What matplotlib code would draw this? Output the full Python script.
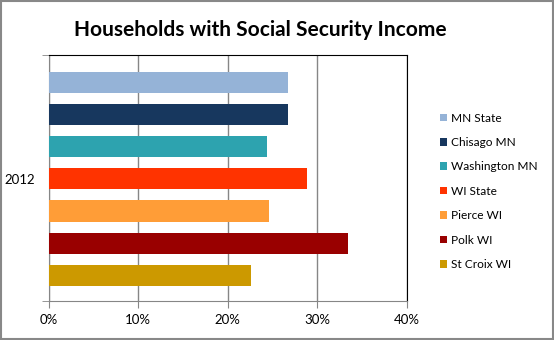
import matplotlib.pyplot as plt
from matplotlib.patches import Rectangle

# data
category = '2012'
series = ['MN State', 'Chisago MN', 'Washington MN', 'WI State',
          'Pierce WI', 'Polk WI', 'St Croix WI']
values = [0.267, 0.267, 0.244, 0.289, 0.246, 0.334, 0.226]
colors = ['#95B3D7', '#17375E', '#2DA3AF', '#FF3300',
          '#FF9D37', '#990000', '#CC9900']
xticks = [0, 0.1, 0.2, 0.3, 0.4]
xtick_labels = ['0%', '10%', '20%', '30%', '40%']

plt.rcParams['font.family'] = ['Lato', 'DejaVu Sans']

fig = plt.figure(figsize=(5.54, 3.40), dpi=100)
ax = fig.add_axes([0.0879, 0.1147, 0.6462, 0.7235])

positions = list(range(len(series)))
for pos, val, col, name in zip(positions, values, colors, series):
    ax.barh(pos, val, height=0.66, color=col, label=name, zorder=3)

ax.set_xlim(0, 0.4)
ax.set_ylim(6.8, -0.85)
ax.set_xticks(xticks)
ax.set_xticklabels(xtick_labels, fontsize=9.5)
# category label in the middle, edge ticks as minor ticks
ax.set_yticks([3])
ax.set_yticklabels([category], fontsize=9.5)
ax.set_yticks([-0.85, 6.8], minor=True)

ax.grid(axis='x', color='#868686', linewidth=1, zorder=0)
for side in ['left', 'bottom']:
    ax.spines[side].set_color('#868686')
ax.spines['top'].set_color('black')
ax.spines['right'].set_color('black')
ax.tick_params(axis='x', length=5, color='#868686', pad=4)
ax.tick_params(axis='y', which='major', length=0, pad=10)
ax.tick_params(axis='y', which='minor', length=5, color='#868686')

fig.text(0.470, 0.912, 'Households with Social Security Income',
         fontsize=15, fontweight='bold', ha='center', va='center')

ax.legend(loc='upper left', bbox_to_anchor=(1.08, 0.785), frameon=False,
          fontsize=8.6, handlelength=0.6, handleheight=0.6,
          handletextpad=0.3, labelspacing=1.12, borderaxespad=0)

fig.patches.append(Rectangle((0.001, 0.002), 0.997, 0.995, fill=False,
                             edgecolor='#888888', linewidth=1.5,
                             transform=fig.transFigure, figure=fig))

fig.savefig('out.png', dpi=100)
